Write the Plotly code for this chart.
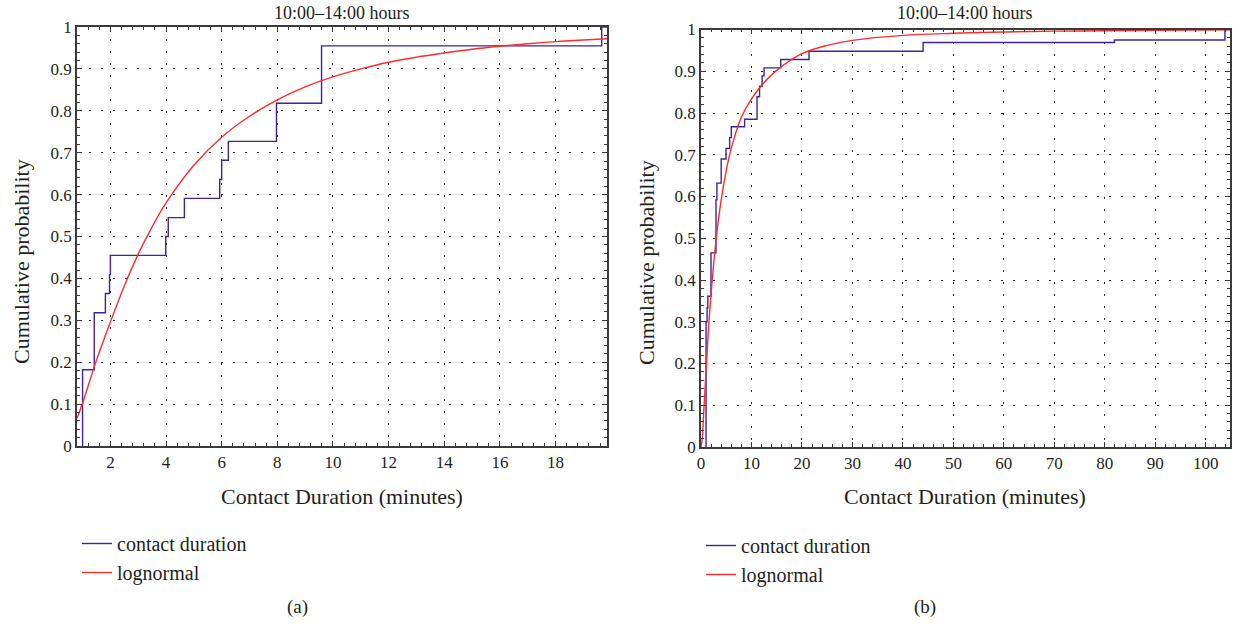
import plotly.graph_objects as go

# ---------------- data ----------------
# (a) empirical CDF steps: x where the step occurs, y level after the step
a_step_x = [1.0, 1.0, 1.42, 1.82, 1.97, 2.0, 3.99, 4.08, 4.66, 5.93, 6.0, 6.24, 7.97, 9.59, 19.66, 19.85]
a_step_y = [0.0, 0.182, 0.318, 0.364, 0.409, 0.455, 0.5, 0.545, 0.591, 0.636, 0.682, 0.727, 0.818, 0.955, 1.0, 1.0]

# (a) lognormal fit
a_logn_x = [0.8, 1, 1.5, 2, 2.5, 3, 3.5, 4, 5, 6, 7, 8, 9, 10, 11, 12, 13, 14, 15, 16, 17, 18, 19, 19.85]
a_logn_y = [0.066, 0.102, 0.205, 0.296, 0.382, 0.458, 0.523, 0.58, 0.67, 0.737, 0.787, 0.826, 0.857, 0.881, 0.9,
            0.916, 0.928, 0.938, 0.947, 0.954, 0.96, 0.965, 0.969, 0.972]

# (b) empirical CDF steps
b_step_x = [1.0, 1.0, 1.2, 1.35, 1.98, 2.97, 3.15, 4.0, 4.95, 5.67, 6.0, 8.64, 11.1, 11.6, 12.1, 12.5,
            15.8, 21.4, 44.0, 81.9, 103.8, 104.8]
b_step_y = [0.0, 0.30, 0.333, 0.361, 0.465, 0.592, 0.632, 0.69, 0.715, 0.741, 0.767, 0.785, 0.839, 0.864,
            0.889, 0.908, 0.928, 0.948, 0.969, 0.975, 1.0, 1.0]

# (b) lognormal fit
b_logn_x = [0, 0.25, 0.5, 1, 1.5, 2, 3, 4, 5, 6, 8, 10, 12, 15, 20, 25, 30, 40, 50, 60, 70, 80, 90, 104.8]
b_logn_y = [0.0, 0.02, 0.075, 0.182, 0.285, 0.368, 0.498, 0.592, 0.662, 0.716, 0.79, 0.834, 0.866, 0.902,
            0.942, 0.962, 0.974, 0.986, 0.991, 0.994, 0.996, 0.997, 0.998, 0.999]

a_xticks = [2, 4, 6, 8, 10, 12, 14, 16, 18]
b_xticks = [0, 10, 20, 30, 40, 50, 60, 70, 80, 90, 100]
y_ticks = [0, 0.1, 0.2, 0.3, 0.4, 0.5, 0.6, 0.7, 0.8, 0.9, 1]
y_ticktext = ["0", "0.1", "0.2", "0.3", "0.4", "0.5", "0.6", "0.7", "0.8", "0.9", "1"]

panel_title = "10:00–14:00 hours"
x_title = "Contact Duration (minutes)"
y_title = "Cumulative probability"
names = ["contact duration", "lognormal"]

# ---------------- style ----------------
FONT = "Liberation Serif"
PURPLE = "#40229a"
RED = "#ff2b2b"
TXT = "#231f20"
W, H = 1233, 625

fig = go.Figure()

fig.add_trace(go.Scatter(x=a_step_x, y=a_step_y, mode="lines", line=dict(color=PURPLE, width=1.4, shape="hv"),
                         name=names[0], xaxis="x", yaxis="y", legend="legend"))
fig.add_trace(go.Scatter(x=a_logn_x, y=a_logn_y, mode="lines", line=dict(color=RED, width=1.4, shape="spline"),
                         name=names[1], xaxis="x", yaxis="y", legend="legend"))
fig.add_trace(go.Scatter(x=b_step_x, y=b_step_y, mode="lines", line=dict(color=PURPLE, width=1.4, shape="hv"),
                         name=names[0], xaxis="x2", yaxis="y2", legend="legend2"))
fig.add_trace(go.Scatter(x=b_logn_x, y=b_logn_y, mode="lines", line=dict(color=RED, width=1.4, shape="spline"),
                         name=names[1], xaxis="x2", yaxis="y2", legend="legend2"))

def px_x(p):
    return p / W

def px_y(p):
    return 1 - p / H

axis_common = dict(
    showline=True, linecolor="#3a3a3a", linewidth=1.5, mirror="ticks",
    ticks="inside", ticklen=5, tickcolor="#3a3a3a", tickwidth=1.2,
    showgrid=True, gridcolor="#2a2a2a", gridwidth=1.2, griddash="2px,10px",
    zeroline=False, automargin=False,
    tickfont=dict(family=FONT, size=17, color=TXT),
)
minor_common = dict(ticks="inside", ticklen=3, tickcolor="#3a3a3a", showgrid=False)

fig.update_layout(
    width=W, height=H,
    margin=dict(l=0, r=0, t=0, b=0, pad=0, autoexpand=False),
    paper_bgcolor="white", plot_bgcolor="white",
    font=dict(family=FONT, color=TXT),
    xaxis=dict(domain=[px_x(77), px_x(607)], anchor="y", range=[0.8, 19.85],
               tickvals=a_xticks, minor=dict(dtick=0.4, **minor_common), **axis_common),
    yaxis=dict(domain=[px_y(446), px_y(27)], anchor="x", range=[0, 1],
               tickvals=y_ticks, ticktext=y_ticktext, minor=dict(dtick=0.02, **minor_common), **axis_common),
    xaxis2=dict(domain=[px_x(701), px_x(1230)], anchor="y2", range=[0, 104.8],
                tickvals=b_xticks, minor=dict(dtick=2, **minor_common), **axis_common),
    yaxis2=dict(domain=[px_y(447), px_y(29.5)], anchor="x2", range=[0, 1],
                tickvals=y_ticks, ticktext=y_ticktext, minor=dict(dtick=0.02, **minor_common), **axis_common),
    legend=dict(x=px_x(77), y=px_y(524), xanchor="left", yanchor="top", bgcolor="rgba(0,0,0,0)",
                font=dict(family=FONT, size=20, color=TXT), itemwidth=30, tracegroupgap=0),
    legend2=dict(x=px_x(701), y=px_y(526), xanchor="left", yanchor="top", bgcolor="rgba(0,0,0,0)",
                 font=dict(family=FONT, size=20, color=TXT), itemwidth=30, tracegroupgap=0),
    showlegend=True,
)

ann = []
for cx in [342, 965]:
    ann.append(dict(text=panel_title, x=px_x(cx), y=px_y(13), xref="paper", yref="paper",
                    xanchor="center", yanchor="middle",
                    showarrow=False, font=dict(family=FONT, size=18, color=TXT)))
for cx in [342, 965]:
    ann.append(dict(text=x_title, x=px_x(cx), y=px_y(496), xref="paper", yref="paper",
                    xanchor="center", yanchor="middle",
                    showarrow=False, font=dict(family=FONT, size=22, color=TXT)))
for cx, cy in [(21, 262), (646, 262)]:
    ann.append(dict(text=y_title, x=px_x(cx), y=px_y(cy), xref="paper", yref="paper", textangle=-90,
                    xanchor="center", yanchor="middle",
                    showarrow=False, font=dict(family=FONT, size=22, color=TXT)))
for cx, lab in [(297, "(a)"), (925, "(b)")]:
    ann.append(dict(text=lab, x=px_x(cx), y=px_y(607), xref="paper", yref="paper",
                    xanchor="center", yanchor="middle",
                    showarrow=False, font=dict(family=FONT, size=19, color=TXT)))
fig.update_layout(annotations=ann)

fig.write_html("out.html", config={"displayModeBar": False},
               post_script="document.body.style.margin='0px';document.body.style.overflow='hidden';")
